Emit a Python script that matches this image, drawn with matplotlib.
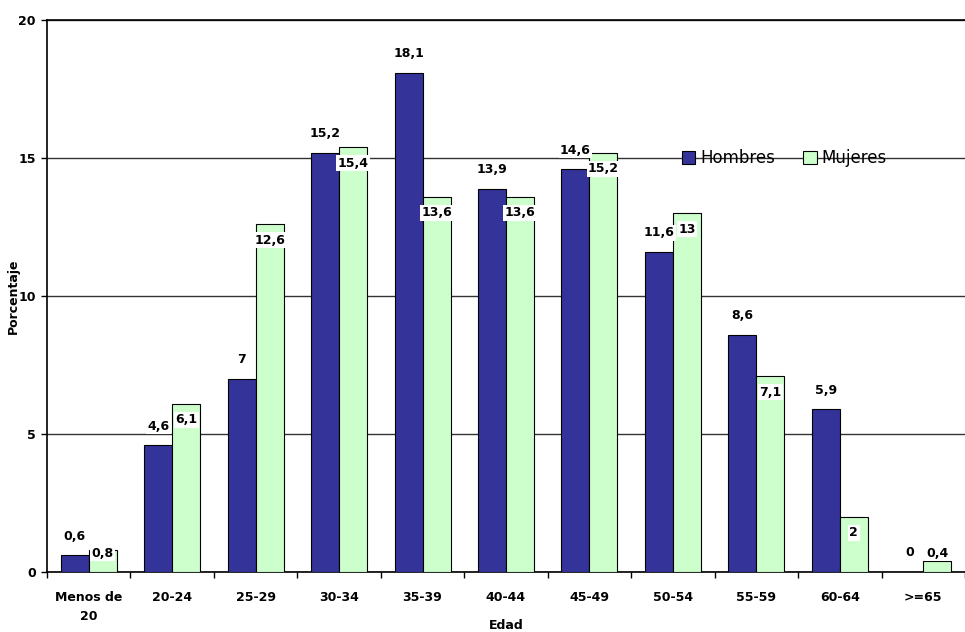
import matplotlib.pyplot as plt
import numpy as np

categorias = ['Menos de\n20', '20-24', '25-29', '30-34', '35-39', '40-44',
              '45-49', '50-54', '55-59', '60-64', '>=65']
hombres = [0.6, 4.6, 7.0, 15.2, 18.1, 13.9, 14.6, 11.6, 8.6, 5.9, 0.0]
mujeres = [0.8, 6.1, 12.6, 15.4, 13.6, 13.6, 15.2, 13.0, 7.1, 2.0, 0.4]
etiq_h = ['0,6', '4,6', '7', '15,2', '18,1', '13,9', '14,6', '11,6', '8,6', '5,9', '0']
etiq_m = ['0,8', '6,1', '12,6', '15,4', '13,6', '13,6', '15,2', '13', '7,1', '2', '0,4']

azul = '#333399'
verde = '#ccffcc'

fig = plt.figure(figsize=(9.65, 6.32), dpi=100)
ax = fig.add_axes([0.0487, 0.095, 0.9513, 0.873])

x = np.arange(len(categorias))
w = 0.335
ax.bar(x - w / 2, hombres, w, color=azul, edgecolor='black', linewidth=0.8,
       label='Hombres', zorder=3)
ax.bar(x + w / 2, mujeres, w, color=verde, edgecolor='black', linewidth=0.8,
       label='Mujeres', zorder=3)

ax.set_xlim(-0.5, 10.5)
ax.set_ylim(0, 20)
ax.set_yticks([0, 5, 10, 15, 20])
ax.yaxis.grid(True, color='#333333', linewidth=1)
ax.set_axisbelow(True)

ax.spines['right'].set_visible(False)
ax.spines['top'].set_linewidth(1.2)
ax.spines['left'].set_linewidth(1.2)
ax.spines['bottom'].set_linewidth(1.2)

ax.set_xticks(x)
ax.set_xticklabels(categorias, fontsize=9, fontweight='bold', linespacing=1.6)
ax.set_xticks(np.arange(-0.5, 11, 1), minor=True)
ax.tick_params(axis='x', which='major', length=0, pad=14)
ax.tick_params(axis='x', which='minor', length=4, width=1, direction='out')
ax.tick_params(axis='y', length=4, width=1, labelsize=9, pad=4)
for t in ax.get_yticklabels():
    t.set_fontweight('bold')

ax.set_xlabel('Edad', fontsize=9, fontweight='bold')
ax.xaxis.set_label_coords(0.5, -0.086)
ax.set_ylabel('Porcentaje', fontsize=9, fontweight='bold')
ax.yaxis.set_label_coords(-0.03, 0.5)

for i in range(len(categorias)):
    ax.annotate(etiq_h[i], (x[i] - w / 2, hombres[i]), xytext=(0, 19),
                textcoords='offset pixels', ha='center', va='center',
                fontsize=9, fontweight='bold', zorder=5,
                bbox=dict(facecolor='white', edgecolor='none', pad=1))
    ax.annotate(etiq_m[i], (x[i] + w / 2, max(mujeres[i], 1.25)), xytext=(0, -16),
                textcoords='offset pixels', ha='center', va='center',
                fontsize=9, fontweight='bold', zorder=5,
                bbox=dict(facecolor='white', edgecolor='none', pad=1))

ax.legend(loc='upper left', bbox_to_anchor=(0.675, 0.793), ncol=2, frameon=False,
          fontsize=12, handlelength=0.8, handleheight=0.8, handletextpad=0.3,
          columnspacing=1.7)

fig.savefig('out.png', dpi=100)
